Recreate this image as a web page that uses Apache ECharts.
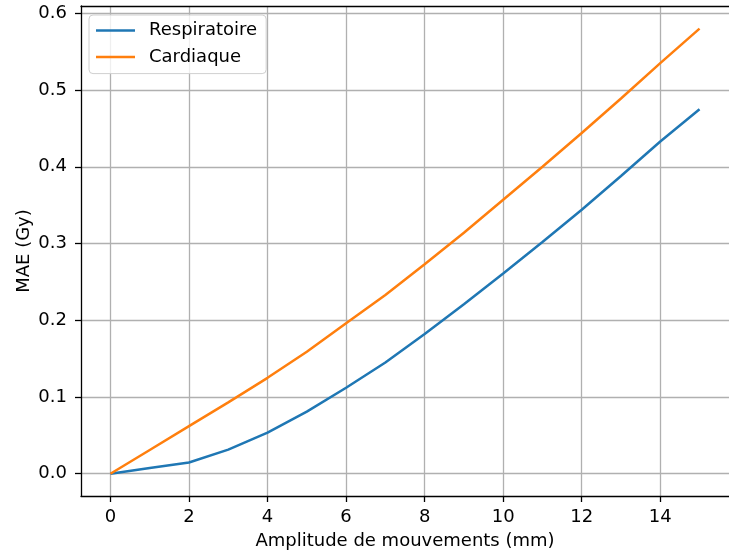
<!DOCTYPE html>
<html>
<head>
<meta charset="utf-8">
<script src="https://cdn.jsdelivr.net/npm/echarts@6/dist/echarts.min.js"></script>
<style>html,body{margin:0;padding:0;background:#fff}#c{width:729px;height:557px}</style>
</head>
<body>
<div id="c"></div>
<script>
const amplitudes = [0,1,2,3,4,5,6,7,8,9,10,11,12,13,14,15];
const respiratoire = [0,0.0075,0.0146,0.0315,0.0537,0.081,0.112,0.145,0.182,0.221,0.261,0.302,0.344,0.388,0.433,0.475];
const cardiaque = [0,0.031,0.062,0.093,0.125,0.159,0.196,0.233,0.273,0.314,0.357,0.400,0.444,0.489,0.535,0.580];
const xTicks = [0,2,4,6,8,10,12,14];
const yTicks = [0,0.1,0.2,0.3,0.4,0.5,0.6];
const seriesNames = ['Respiratoire','Cardiaque'];
const colors = ['#1f77b4','#ff7f0e'];

const font = 'DejaVu Sans';
const fs = 18;
const chart = echarts.init(document.getElementById('c'), null, {renderer:'canvas'});
const pair = (xs, ys) => xs.map((x,i)=>[x, ys[i]]);
chart.setOption({
  animation:false,
  backgroundColor:'#fff',
  textStyle:{fontFamily:font},
  grid:{left:81, right:-12, top:6, bottom:61, containLabel:false},
  legend:{
    left:89, top:15, orient:'vertical', itemGap:8.6,
    padding:[6.5,9,7.5,7],
    borderColor:'#d0d0d0', borderWidth:1, borderRadius:4,
    backgroundColor:'rgba(255,255,255,0.8)',
    itemWidth:39, itemHeight:2.5, icon:'rect',
    textStyle:{fontFamily:font, fontSize:fs, color:'#000', padding:[0,0,0,9]},
    data:seriesNames
  },
  xAxis:[{
    type:'value', min:-0.75, max:15.75,
    axisLine:{show:true, onZero:false, lineStyle:{color:'#000', width:1.3}},
    axisTick:{show:true, length:6, customValues:xTicks, lineStyle:{color:'#000', width:1.3}},
    axisLabel:{customValues:xTicks, color:'#000', fontSize:fs, fontFamily:font, margin:12},
    splitLine:{show:true, customValues:xTicks, lineStyle:{color:'#b0b0b0', width:1.3}},
    name:'Amplitude de mouvements (mm)', nameLocation:'middle', nameGap:36, nameMoveOverlap:false,
    nameTextStyle:{color:'#000', fontSize:fs, fontFamily:font}
  },{
    type:'value', position:'top', min:-0.75, max:15.75,
    axisLine:{show:true, onZero:false, lineStyle:{color:'#000', width:1.3}},
    axisTick:{show:false}, axisLabel:{show:false}, splitLine:{show:false}
  }],
  yAxis:[{
    type:'value', min:-0.029, max:0.6095,
    axisLine:{show:true, onZero:false, lineStyle:{color:'#000', width:1.3}},
    axisTick:{show:true, length:6, customValues:yTicks, lineStyle:{color:'#000', width:1.3}},
    axisLabel:{customValues:yTicks, color:'#000', fontSize:fs, fontFamily:font, margin:14,
      formatter:v=>v.toFixed(1)},
    splitLine:{show:true, customValues:yTicks, lineStyle:{color:'#b0b0b0', width:1.3}},
    name:'MAE (Gy)', nameLocation:'middle', nameGap:48, nameMoveOverlap:false,
    nameTextStyle:{color:'#000', fontSize:fs, fontFamily:font}
  }],
  series:[
    {name:seriesNames[0], type:'line', data:pair(amplitudes, respiratoire), symbol:'none',
     lineStyle:{color:colors[0], width:2.5}, itemStyle:{color:colors[0]}},
    {name:seriesNames[1], type:'line', data:pair(amplitudes, cardiaque), symbol:'none',
     lineStyle:{color:colors[1], width:2.5}, itemStyle:{color:colors[1]}}
  ]
});
</script>
</body>
</html>
